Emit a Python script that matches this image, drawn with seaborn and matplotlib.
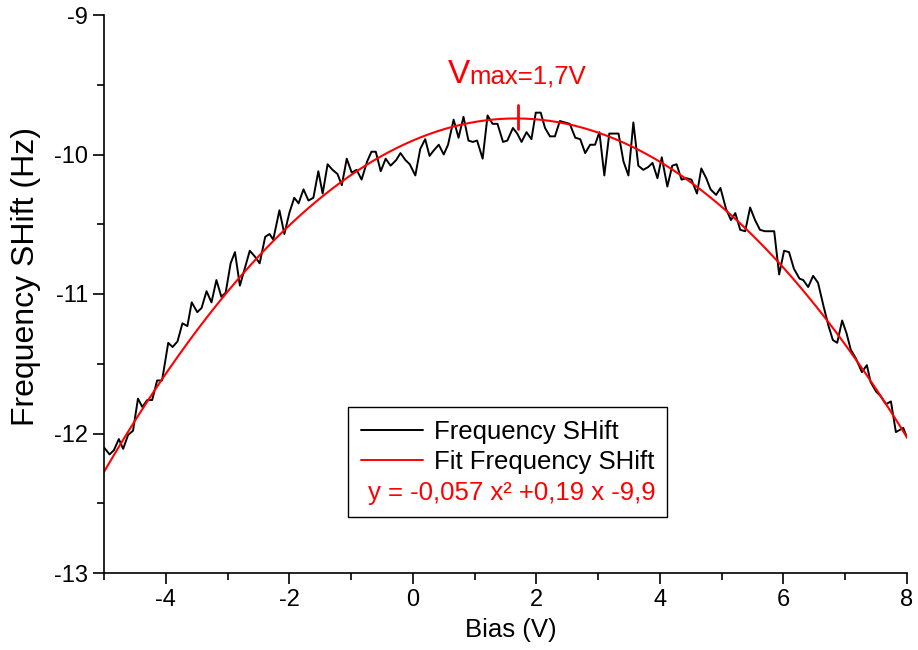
import numpy as np
import pandas as pd
import matplotlib
matplotlib.use("Agg")
import matplotlib.pyplot as plt
import seaborn as sns
from matplotlib.lines import Line2D
from matplotlib.ticker import MultipleLocator

# ---- data ----
bias = [-5.00, -4.91, -4.84, -4.76, -4.69, -4.61, -4.53, -4.45, -4.38, -4.30,
        -4.22, -4.14, -4.06, -3.96, -3.89, -3.81, -3.73, -3.65, -3.58, -3.49,
        -3.42, -3.34, -3.26, -3.18, -3.10, -3.03, -2.95, -2.88, -2.80, -2.64,
        -2.56, -2.48, -2.39, -2.32, -2.26, -2.16, -2.08, -2.00, -1.92, -1.85,
        -1.77, -1.69, -1.61, -1.53, -1.46, -1.38, -1.30, -1.22, -1.15, -1.07,
        -0.99, -0.91, -0.83, -0.74, -0.67, -0.60, -0.52, -0.44, -0.36, -0.27,
        -0.20, -0.12, -0.05, 0.04, 0.12, 0.20, 0.27, 0.34, 0.42, 0.50,
        0.57, 0.66, 0.74, 0.82, 0.90, 0.97, 1.04, 1.13, 1.21, 1.29,
        1.37, 1.46, 1.53, 1.62, 1.69, 1.76, 1.84, 1.92, 1.99, 2.07,
        2.14, 2.22, 2.30, 2.38, 2.46, 2.54, 2.63, 2.71, 2.79, 2.87,
        2.95, 3.02, 3.10, 3.18, 3.26, 3.33, 3.41, 3.49, 3.57, 3.65,
        3.73, 3.81, 3.88, 3.96, 4.03, 4.12, 4.20, 4.27, 4.35, 4.43,
        4.51, 4.60, 4.67, 4.75, 4.82, 4.91, 4.98, 5.07, 5.15, 5.22,
        5.30, 5.38, 5.46, 5.54, 5.62, 5.70, 5.77, 5.85, 5.93, 6.01,
        6.09, 6.17, 6.26, 6.32, 6.40, 6.48, 6.56, 6.65, 6.73, 6.80,
        6.87, 6.95, 7.02, 7.09, 7.17, 7.27, 7.35, 7.41, 7.50, 7.57,
        7.66, 7.74, 7.82, 7.94, 8.00]
shift = [-12.10, -12.15, -12.12, -12.04, -12.11, -12.01, -11.98, -11.75, -11.81, -11.76,
         -11.76, -11.62, -11.62, -11.35, -11.38, -11.34, -11.21, -11.23, -11.06, -11.13,
         -11.10, -10.98, -11.06, -10.90, -11.02, -10.99, -10.78, -10.70, -10.94, -10.69,
         -10.73, -10.78, -10.59, -10.57, -10.61, -10.40, -10.57, -10.42, -10.31, -10.35,
         -10.25, -10.33, -10.31, -10.12, -10.28, -10.07, -10.11, -10.14, -10.22, -10.03,
         -10.13, -10.11, -10.18, -10.05, -9.98, -9.98, -10.12, -10.03, -10.08, -10.04,
         -9.99, -10.04, -10.07, -10.15, -9.96, -9.89, -10.01, -9.97, -9.93, -10.00,
         -9.93, -9.75, -9.88, -9.73, -9.90, -9.91, -9.90, -10.03, -9.72, -9.78,
         -9.78, -9.91, -9.90, -9.81, -9.85, -9.91, -9.84, -9.89, -9.70, -9.70,
         -9.81, -9.87, -9.87, -9.76, -9.77, -9.78, -9.88, -9.89, -9.99, -9.93,
         -9.93, -9.84, -10.15, -9.85, -9.85, -9.85, -10.05, -10.15, -9.77, -10.08,
         -10.11, -10.09, -10.06, -10.17, -10.02, -10.23, -10.08, -10.07, -10.18, -10.17,
         -10.18, -10.28, -10.10, -10.17, -10.25, -10.29, -10.24, -10.39, -10.47, -10.42,
         -10.54, -10.55, -10.38, -10.47, -10.54, -10.55, -10.55, -10.55, -10.86, -10.69,
         -10.70, -10.82, -10.89, -10.90, -10.95, -10.87, -10.92, -11.09, -11.23, -11.33,
         -11.35, -11.19, -11.28, -11.40, -11.46, -11.56, -11.51, -11.63, -11.70, -11.73,
         -11.79, -11.77, -11.99, -11.96, -12.03]

# quadratic fit shown in the chart: y = a x^2 + b x + c
fit_coef = [-0.057, 0.19, -9.9]
v_max = 1.7
marker_y = [-9.645, -9.815]

x_ticks = [-4, -2, 0, 2, 4, 6, 8]
y_ticks = [-13, -12, -11, -10, -9]

df = pd.DataFrame({"Bias": bias, "Shift": shift})
fit_x = np.linspace(-5, 8, 300)
fit_df = pd.DataFrame({"Bias": fit_x,
                       "Fit": fit_coef[0] * fit_x ** 2 + fit_coef[1] * fit_x + fit_coef[2]})

sns.set_theme(style="ticks")
plt.rcParams["font.family"] = ["Liberation Sans", "DejaVu Sans"]
plt.rcParams["axes.unicode_minus"] = False
plt.rcParams["text.color"] = "black"
plt.rcParams["axes.labelcolor"] = "black"

fig = plt.figure(figsize=(9.18, 6.5), dpi=100)
ax = fig.add_axes([104 / 918, 1 - 573 / 650, 803 / 918, 558 / 650])

sns.lineplot(data=df, x="Bias", y="Shift", ax=ax, color="black", linewidth=1.4,
             estimator=None, sort=False)
sns.lineplot(data=fit_df, x="Bias", y="Fit", ax=ax, color="red", linewidth=1.5,
             estimator=None)
ax.plot([v_max, v_max], marker_y, color="red", linewidth=2)

ax.set_xlim(-5, 8)
ax.set_ylim(-13, -9)
ax.set_xticks(x_ticks)
ax.set_yticks(y_ticks)
ax.set_xticklabels([str(t) for t in x_ticks])
ax.set_yticklabels([str(t) for t in y_ticks])
ax.xaxis.set_minor_locator(MultipleLocator(1))
ax.yaxis.set_minor_locator(MultipleLocator(0.5))
ax.tick_params(axis="both", which="major", direction="out", length=8, width=1.2,
               labelsize=17, color="black", labelcolor="black")
ax.tick_params(axis="both", which="minor", direction="out", length=5, width=1.2,
               color="black")
for s in ["top", "right"]:
    ax.spines[s].set_visible(False)
for s in ["left", "bottom"]:
    ax.spines[s].set_linewidth(1.2)
    ax.spines[s].set_color("black")

ax.set_xlabel("Bias (V)", fontsize=18.5, color="black")
ax.set_ylabel("Frequency SHift (Hz)", fontsize=23, color="black")
ax.xaxis.set_label_coords((511 - 104) / 803, (573 - 618) / 558)
ax.yaxis.set_label_coords((41 - 104) / 803, (573 - 276) / 558)

handles = [Line2D([], [], color="black", linewidth=1.4),
           Line2D([], [], color="red", linewidth=1.4),
           Line2D([], [], color="none")]
leg = ax.legend(handles, ["Frequency SHift", "Fit Frequency SHift", " "],
                loc="upper left", bbox_to_anchor=((348 - 104) / 803, (573 - 407) / 558),
                borderaxespad=0, fontsize=18.5, frameon=True, fancybox=False,
                edgecolor="black", framealpha=1, handlelength=2.4, handletextpad=0.45,
                labelspacing=0.23, borderpad=0.5)
leg.get_frame().set_linewidth(1.0)
for t in leg.get_texts():
    t.set_color("black")

ax.text((368 - 104) / 803, (573 - 493) / 558, "y = -0,057 x² +0,19 x -9,9",
        transform=ax.transAxes, color="red", fontsize=18.5, va="center", ha="left",
        zorder=10)

ax.text(v_max - 1.13, -9.49, "V", color="red", fontsize=24, ha="left", va="baseline")
ax.text(v_max - 0.78, -9.49, "max=1,7V", color="red", fontsize=18.5, ha="left", va="baseline")

fig.savefig("out.png", dpi=100)
